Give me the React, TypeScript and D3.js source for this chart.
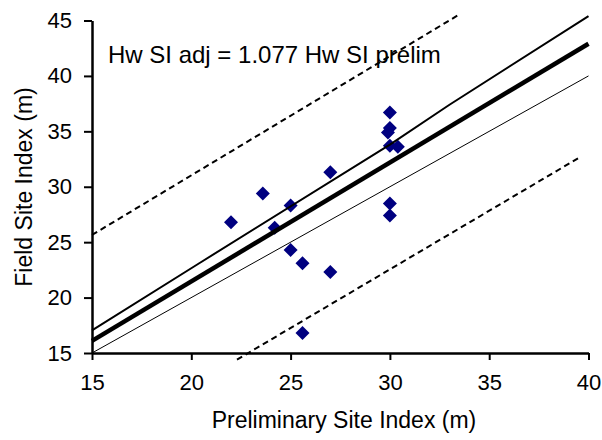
import React, { useEffect, useRef } from "react";
import * as d3 from "d3";

// prelim vs field site index
const prelimSI = [30, 30, 29.9, 30, 30.4, 27, 23.6, 25, 22, 24.2, 30, 30, 25, 25.6, 27, 25.6];
const fieldSI = [36.7, 35.3, 34.9, 33.7, 33.6, 31.3, 29.4, 28.3, 26.8, 26.3, 28.5, 27.4, 24.3, 23.1, 22.3, 16.8];

// fitted line and bands, as [x, y] points
const fitLine = [[15, 16.1], [40, 42.9]];
const upperBand = [[15, 17.05], [20.4, 23.1], [30, 33.8], [33, 37.4], [40, 45.4]];
const oneToOne = [[15, 15], [40, 40]];
const upperPred = [[15, 25.65], [33.5, 45.55]];
const lowerPred = [[22.3, 14.4], [39.6, 32.7]];

const xTicks = [15, 20, 25, 30, 35, 40];
const yTicks = [15, 20, 25, 30, 35, 40, 45];

const equationText = "Hw SI adj = 1.077 Hw SI prelim";
const xTitle = "Preliminary Site Index (m)";
const yTitle = "Field Site Index (m)";

const W = 602, H = 440;
const FONT = "'Liberation Sans', Arial, sans-serif";

export default function App() {
  const ref = useRef(null);

  useEffect(() => {
    const svg = d3.select(ref.current);
    svg.selectAll("*").remove();

    const x = d3.scaleLinear().domain([15, 40]).range([92, 588.5]);
    const y = d3.scaleLinear().domain([15, 45]).range([353, 20.5]);

    const line = d3.line().x((d) => x(d[0])).y((d) => y(d[1]));

    // diamonds (under the lines)
    const r = 7;
    svg.append("g").selectAll("path").data(prelimSI).join("path")
      .attr("d", `M0,${-r}L${r},0L0,${r}L${-r},0Z`)
      .attr("transform", (d, i) => `translate(${x(d)},${y(fieldSI[i])})`)
      .attr("fill", "#000080");

    // lines
    svg.append("path").datum(oneToOne).attr("d", line)
      .attr("fill", "none").attr("stroke", "#000").attr("stroke-width", 1);
    svg.append("path").datum(upperBand).attr("d", line)
      .attr("fill", "none").attr("stroke", "#000").attr("stroke-width", 2);
    svg.append("path").datum(fitLine).attr("d", line)
      .attr("fill", "none").attr("stroke", "#000").attr("stroke-width", 4.5);
    [upperPred, lowerPred].forEach((pts) => {
      svg.append("path").datum(pts).attr("d", line)
        .attr("fill", "none").attr("stroke", "#000").attr("stroke-width", 2)
        .attr("stroke-dasharray", "6,4");
    });

    // axes
    const yAxis = svg.append("g")
      .attr("transform", "translate(92,0)")
      .call(d3.axisLeft(y).tickValues(yTicks).tickSizeOuter(0).tickSizeInner(8).tickPadding(12));
    const xAxis = svg.append("g")
      .attr("transform", "translate(0,353)")
      .call(d3.axisBottom(x).tickValues(xTicks).tickSizeOuter(0).tickSizeInner(7).tickPadding(14));
    [yAxis, xAxis].forEach((g) => {
      g.select(".domain").attr("stroke-width", 2.5);
      g.selectAll(".tick line").attr("stroke-width", 2);
      g.selectAll(".tick text")
        .attr("font-family", FONT).attr("font-size", 22).attr("fill", "#000");
    });

    // texts
    svg.append("text").attr("x", 108).attr("y", 63)
      .attr("font-family", FONT).attr("font-size", 24).text(equationText);
    svg.append("text").attr("x", 344).attr("y", 428).attr("text-anchor", "middle")
      .attr("font-family", FONT).attr("font-size", 23).text(xTitle);
    svg.append("text").attr("transform", "translate(32,187) rotate(-90)")
      .attr("text-anchor", "middle")
      .attr("font-family", FONT).attr("font-size", 23).text(yTitle);
  }, []);

  return (
    <svg ref={ref} width={W} height={H}
      style={{ position: "absolute", left: 0, top: 0, background: "#fff" }} />
  );
}
